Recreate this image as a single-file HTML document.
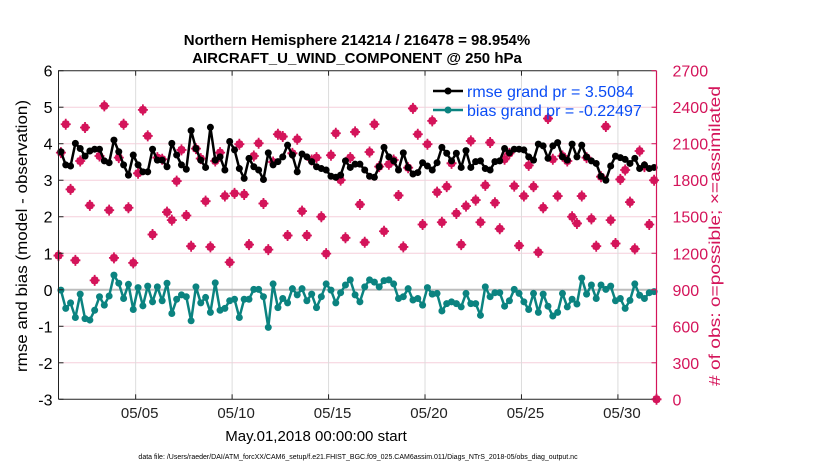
<!DOCTYPE html>
<html><head><meta charset="utf-8"><style>
body{margin:0;background:#fff;}
svg{display:block;font-family:"Liberation Sans",sans-serif;}
</style></head><body>
<svg id="chart" width="830" height="470" viewBox="0 0 830 470" xmlns="http://www.w3.org/2000/svg">
<rect width="830" height="470" fill="#fff"/>
<g id="grid"></g>
<g id="series"></g>
<g id="axes"></g>
<text x="357" y="45" text-anchor="middle" font-size="15" font-weight="bold">Northern Hemisphere 214214 / 216478 = 98.954%</text>
<text x="357" y="63" text-anchor="middle" font-size="15" font-weight="bold">AIRCRAFT_U_WIND_COMPONENT @ 250 hPa</text>
<text transform="translate(27,236) rotate(-90)" text-anchor="middle" font-size="16" textLength="272" lengthAdjust="spacingAndGlyphs">rmse and bias (model - observation)</text>
<text transform="translate(720,236) rotate(-90)" text-anchor="middle" font-size="16" fill="#d4145a" textLength="300" lengthAdjust="spacingAndGlyphs"># of obs: o=possible; ×=assimilated</text>
<text x="316" y="441" text-anchor="middle" font-size="15">May.01,2018 00:00:00 start</text>
<text x="358" y="459" text-anchor="middle" font-size="7">data file: /Users/raeder/DAI/ATM_forcXX/CAM6_setup/f.e21.FHIST_BGC.f09_025.CAM6assim.011/Diags_NTrS_2018-05/obs_diag_output.nc</text>
<g id="legend">
<line x1="433" y1="91" x2="463" y2="91" stroke="#000" stroke-width="2.5"/>
<circle cx="448" cy="91" r="3.5" fill="#000"/>
<text x="467" y="97" font-size="16" fill="#0a4cf5">rmse grand pr = 3.5084</text>
<line x1="433" y1="110" x2="463" y2="110" stroke="#0b8380" stroke-width="2.5"/>
<circle cx="448" cy="110" r="3.5" fill="#0b8380"/>
<text x="467" y="116" font-size="16" fill="#0a4cf5">bias grand pr = -0.22497</text>
</g>
</svg>
<script>
const rmse = [3.78,3.42,3.39,4.01,3.87,3.66,3.80,3.85,3.85,3.53,3.48,4.10,3.78,3.42,3.14,3.69,3.42,3.23,3.23,3.85,3.55,3.55,3.37,4.01,3.69,3.42,3.30,4.36,3.87,3.55,3.35,
4.45,3.55,3.64,3.28,4.06,3.83,3.32,3.05,3.60,3.37,3.28,3.02,3.75,3.42,3.51,3.64,3.96,3.69,3.23,3.72,3.64,3.51,3.37,3.32,3.28,3.11,3.08,3.14,3.53,
3.35,3.44,3.44,3.28,3.11,3.08,3.37,3.90,3.64,3.53,3.28,3.75,3.35,3.17,3.21,3.48,3.39,3.28,3.48,3.90,3.74,3.53,3.74,3.35,3.81,3.35,3.51,3.53,3.32,
3.28,3.51,3.53,3.87,3.75,3.85,3.85,3.83,3.64,3.55,3.99,3.94,3.60,3.94,4.03,3.64,3.55,3.99,3.64,3.96,3.64,3.53,3.46,3.11,3.00,3.39,3.66,3.62,3.57,3.46,3.60,3.32,3.42,3.32,3.35];
const bias = [-0.01,-0.51,-0.36,-0.76,-0.12,-0.79,-0.83,-0.56,-0.19,-0.42,-0.17,0.40,0.18,-0.24,0.15,-0.54,0.06,-0.44,0.10,-0.33,0.08,-0.30,0.18,-0.65,-0.26,-0.14,-0.19,-0.85,0.08,-0.36,-0.21,
-0.62,0.19,-0.56,-0.51,-0.30,-0.26,-0.76,-0.26,-0.26,0.01,0.01,-0.19,-1.03,0.16,-0.49,-0.24,-0.36,0.03,-0.14,0.03,-0.30,-0.12,-0.49,-0.19,0.16,-0.01,-0.36,-0.08,0.13,
0.27,-0.14,-0.33,0.08,0.27,0.21,0.08,0.25,0.27,0.16,-0.24,-0.19,0.03,-0.28,-0.24,-0.42,0.06,-0.12,-0.10,-0.58,-0.38,-0.33,-0.38,-0.47,-0.10,-0.38,-0.38,-0.70,0.08,
-0.19,-0.08,-0.08,-0.45,-0.30,0.01,-0.10,-0.33,-0.54,-0.10,-0.62,-0.12,-0.45,-0.72,-0.62,-0.10,-0.47,-0.26,-0.39,0.32,-0.12,0.13,-0.24,0.13,0.01,0.10,-0.30,-0.24,-0.51,-0.29,0.16,-0.15,-0.24,-0.08,-0.05];
const obsCount = [2027,2260,1725,1142,1958,2233,1593,977,1999,2411,1554,1162,1986,2260,1574,1121,1857,2378,2164,1354,1986,1972,1538,1472,1793,2049,1510,1258,2060,1978,1628,
1252,1958,2027,1670,1126,1692,2096,1683,1271,1999,2104,1609,1230,1950,2178,2159,1346,2021,2137,1546,1346,1966,1986,1500,1197,2005,2186,1801,1327,
1986,2197,1601,1290,2032,2260,1912,1381,1931,1966,1675,1252,1903,2390,2178,1436,2096,2288,1702,1455,1747,1939,1527,1271,1587,2123,1637,1455,1758,
2110,1615,1401,1972,2021,1752,1263,1670,1922,1747,1208,1574,2307,1972,1670,1999,1958,1500,1445,1670,1986,1483,1258,1829,2241,1472,1280,1807,1884,1620,1236,2040,1912,1436,1800];
const obsEdge = [1181, 0];
const xTickLabels = ["05/05","05/10","05/15","05/20","05/25","05/30"];
const xTickDays = [4,9,14,19,24,29];
const leftTicks = [-3,-2,-1,0,1,2,3,4,5,6];
const rightTicks = [0,300,600,900,1200,1500,1800,2100,2400,2700];

const X0=58.5, X1=656.5, Y0=399.3, Y1=70.7, DAYS=31;
const xs = d => X0 + (X1-X0)*d/DAYS;
const yL = v => Y0 - (v+3)/9*(Y0-Y1);
const yR = v => Y0 - v/2700*(Y0-Y1);
const tOf = k => 0.125 + 0.25*k;
const NS="http://www.w3.org/2000/svg";
function mk(tag, attrs, parent){const e=document.createElementNS(NS,tag);for(const a in attrs)e.setAttribute(a,attrs[a]);parent.appendChild(e);return e;}
const grid=document.getElementById('grid'), ser=document.getElementById('series'), ax=document.getElementById('axes');
const PINK="#d4145a", TEAL="#0b8380";

rightTicks.forEach(v=>{ if(v>0&&v<2700){const l=mk('line',{x1:X0,x2:X1,y1:yR(v),y2:yR(v),stroke:"#f6cfdc","stroke-width":1},grid);

}});
xTickDays.forEach(d=>{const l=mk('line',{x1:xs(d),x2:xs(d),y1:Y1,y2:Y0,stroke:"#dcdcdc","stroke-width":1},grid);

});
const z=mk('line',{x1:X0,x2:X1,y1:yL(0),y2:yL(0),stroke:"#bdbdbd","stroke-width":2},grid);



function pinkMark(x,y){
  const g=mk('g',{},ser);
  
  
  mk('circle',{cx:x,cy:y,r:4,fill:PINK},g);
  mk('path',{d:`M${x-5} ${y}H${x+5}M${x} ${y-5.5}V${y+5.5}M${x-3} ${y+3}L${x+3} ${y-3}M${x-3} ${y-3}L${x+3} ${y+3}`,stroke:PINK,"stroke-width":1.8},g);
}
pinkMark(xs(0), yR(obsEdge[0]));
obsCount.forEach((v,k)=>pinkMark(xs(tOf(k)), yR(v)));
pinkMark(xs(DAYS), yR(obsEdge[1]));

function line(vals,color,name){
  const p=mk('polyline',{points:vals.map((v,k)=>xs(tOf(k))+","+yL(v)).join(" "),fill:"none",stroke:color,"stroke-width":2.5,"stroke-linejoin":"round"},ser);
  
  
  vals.forEach((v,k)=>{const c=mk('circle',{cx:xs(tOf(k)),cy:yL(v),r:3.5,fill:color},ser);
  
  });
}
line(rmse,"#000","rmse");
line(bias,TEAL,"bias");

const box=mk('path',{d:`M${X0} ${Y0}V${Y1}H${X1}M${X0} ${Y0}H${X1}`,stroke:"#222","stroke-width":1,fill:"none"},ax);


const ra=mk('line',{x1:X1,x2:X1,y1:Y1,y2:Y0,stroke:PINK,"stroke-width":1.2},ax);


leftTicks.forEach(v=>{const y=yL(v);
  mk('line',{x1:X0,x2:X0+5,y1:y,y2:y,stroke:"#222"},ax);
  const t=mk('text',{x:X0-6,y:y+6,"text-anchor":"end","font-size":16},ax);t.textContent=v;
  
  });
rightTicks.forEach(v=>{const y=yR(v);
  mk('line',{x1:X1-5,x2:X1,y1:y,y2:y,stroke:PINK},ax);
  const t=mk('text',{x:X1+16,y:y+6,"font-size":16,fill:PINK},ax);t.textContent=v;
  
  });
xTickDays.forEach((d,i)=>{const x=xs(d);
  mk('line',{x1:x,x2:x,y1:Y0,y2:Y0-5,stroke:"#222"},ax);
  mk('line',{x1:x,x2:x,y1:Y1,y2:Y1+5,stroke:"#222"},ax);
  const t=mk('text',{x:x+4,y:418,"text-anchor":"middle","font-size":15,fill:"#222"},ax);t.textContent=xTickLabels[i];
  
  });
</script>
</body></html>
